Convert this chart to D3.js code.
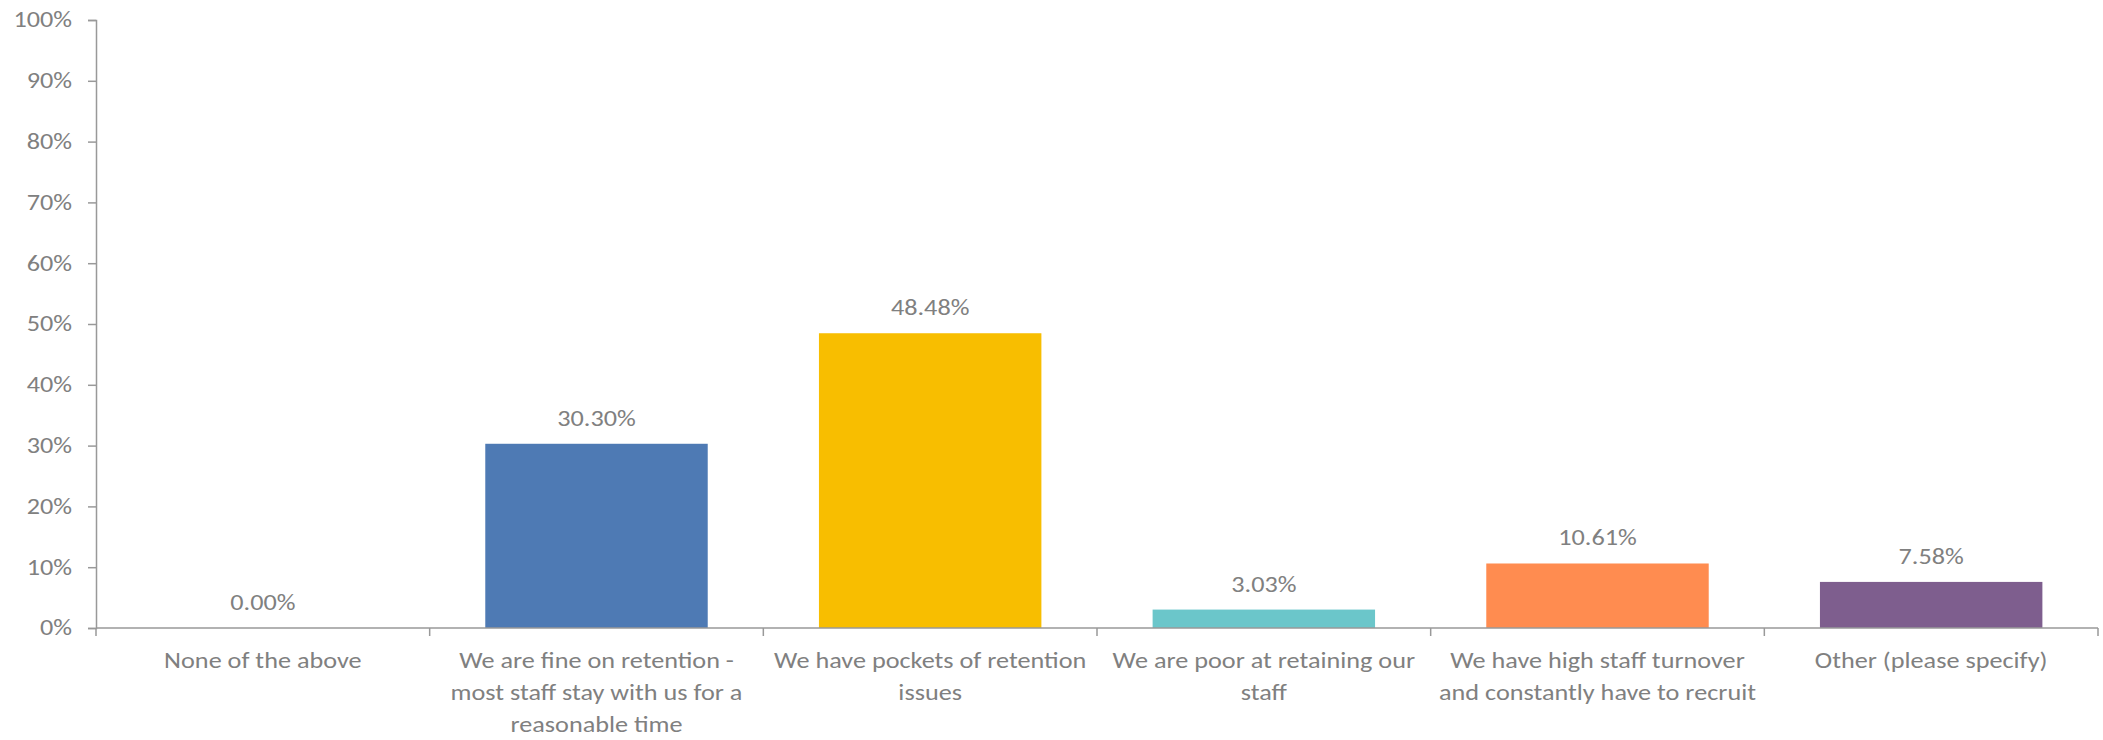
<!DOCTYPE html>
<html>
<head>
<meta charset="utf-8">
<script src="https://cdn.jsdelivr.net/npm/d3@7"></script>
<style>
  html, body { margin: 0; padding: 0; background: #fff; }
  svg text { font-family: Calibri, Carlito, Lato, sans-serif; fill: #808080; }
</style>
</head>
<body>
<svg id="chart" width="2103" height="740"></svg>
<script>
// Survey responses on staff retention
const categories = [
  "None of the above",
  "We are fine on retention - most staff stay with us for a reasonable time",
  "We have pockets of retention issues",
  "We are poor at retaining our staff",
  "We have high staff turnover and constantly have to recruit",
  "Other (please specify)"
];
const categoryLines = [
  ["None of the above"],
  ["We are fine on retention -", "most staff stay with us for a", "reasonable time"],
  ["We have pockets of retention", "issues"],
  ["We are poor at retaining our", "staff"],
  ["We have high staff turnover", "and constantly have to recruit"],
  ["Other (please specify)"]
];
const values = [0.00, 30.30, 48.48, 3.03, 10.61, 7.58];
const colors = ["#4e7ab4", "#4e7ab4", "#f8be00", "#6bc6ca", "#ff8c50", "#7e5e8e"];
const yTicks = [0, 10, 20, 30, 40, 50, 60, 70, 80, 90, 100];

const margin = { left: 96, top: 20, right: 5, bottom: 112 };
const W = 2103, H = 740;
const svg = d3.select("#chart");
const innerW = W - margin.left - margin.right;
const innerH = H - margin.top - margin.bottom;
const g = svg.append("g").attr("transform", `translate(${margin.left},${margin.top})`);

const x = d3.scaleBand().domain(categories).range([0, innerW])
  .paddingInner(1 / 3).paddingOuter(1 / 6);
const y = d3.scaleLinear().domain([0, 100]).range([innerH, 0]);
const step = x.step();
const axisColor = "#999999";
const fontSize = 21.5;
const stretch = 1.22; // wide-set lettering

// y axis
const yAxis = g.append("g")
  .call(d3.axisLeft(y).tickValues(yTicks).tickFormat(d => d + "%").tickSize(8).tickPadding(16));
yAxis.select(".domain").attr("stroke", axisColor).attr("stroke-width", 1.5);
yAxis.selectAll(".tick line").attr("stroke", axisColor).attr("stroke-width", 1.5);
yAxis.selectAll(".tick text")
  .attr("x", 0)
  .attr("transform", `translate(-24,0) scale(${stretch},1)`)
  .attr("font-size", fontSize).attr("fill", "#808080")
  .attr("font-family", "Calibri, Carlito, Lato, sans-serif");

// bars
g.selectAll("rect.bar").data(categories).join("rect")
  .attr("class", "bar")
  .attr("x", d => x(d))
  .attr("width", x.bandwidth())
  .attr("y", (d, i) => y(values[i]))
  .attr("height", (d, i) => innerH - y(values[i]))
  .attr("fill", (d, i) => colors[i]);

// value labels
g.selectAll("text.val").data(categories).join("text")
  .attr("class", "val")
  .attr("transform", (d, i) =>
    `translate(${x(d) + x.bandwidth() / 2},${y(values[i]) - 18}) scale(${stretch},1)`)
  .attr("text-anchor", "middle")
  .attr("font-size", fontSize)
  .text((d, i) => values[i].toFixed(2) + "%");

// x axis line with ticks at category boundaries
g.append("line")
  .attr("x1", 0).attr("x2", innerW).attr("y1", innerH).attr("y2", innerH)
  .attr("stroke", axisColor).attr("stroke-width", 1.5);
const bounds = d3.range(categories.length + 1);
g.selectAll("line.xtick").data(bounds).join("line")
  .attr("class", "xtick")
  .attr("x1", i => i * step).attr("x2", i => i * step)
  .attr("y1", innerH).attr("y2", innerH + 8)
  .attr("stroke", axisColor).attr("stroke-width", 1.5);

// category labels
const labels = g.selectAll("text.cat").data(categories).join("text")
  .attr("class", "cat")
  .attr("text-anchor", "middle")
  .attr("font-size", fontSize)
  .attr("transform", d => `translate(${x(d) + x.bandwidth() / 2},${innerH + 40}) scale(${stretch},1)`);
labels.selectAll("tspan").data((d, i) => categoryLines[i]).join("tspan")
  .attr("x", 0)
  .attr("dy", (t, j) => j === 0 ? 0 : 32)
  .text(t => t);
</script>
</body>
</html>
